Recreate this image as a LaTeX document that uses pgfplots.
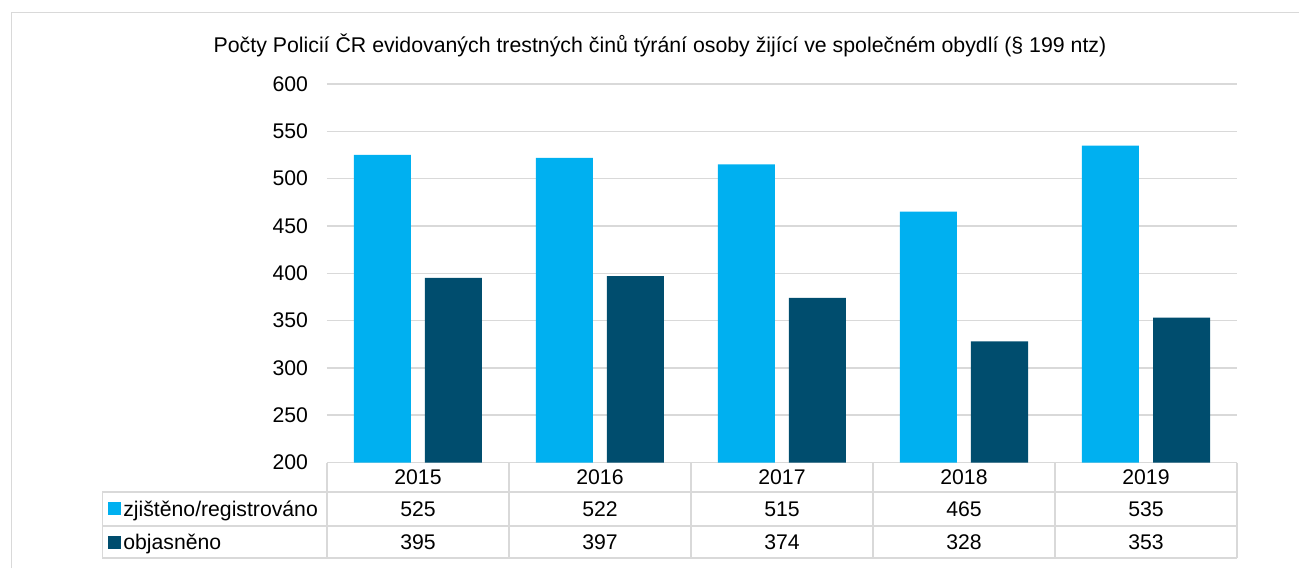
\documentclass[border=0pt]{standalone}
\usepackage{fontspec}
\setmainfont{Liberation Sans}
\usepackage{pgfplots}
\usepackage{pgfplotstable}
\pgfplotsset{compat=1.18}
\definecolor{cLight}{HTML}{00B0F0}
\definecolor{cDark}{HTML}{004D6E}
\definecolor{cGrid}{HTML}{D9D9D9}
\newcommand{\tabfont}{\fontsize{10.6}{12}\selectfont}

\pgfplotstableread{
x year zj ob
0 2015 525 395
1 2016 522 397
2 2017 515 374
3 2018 465 328
4 2019 535 353
}\data

\pgfplotsset{common/.style={
  scale only axis, width=455pt, height=189.25pt,
  xmin=-0.5, xmax=4.5, ymin=200, ymax=600,
  at={(0,0)}, anchor=origin,
}}

\begin{document}
\begin{tikzpicture}
\begin{axis}[common,
  ytick={200,250,...,600},
  xtick=\empty,
  axis line style={draw=none}, major tick length=0pt,
  ymajorgrids, grid style={cGrid, line width=0.7pt},
  tick label style={font=\tabfont},
  /pgf/number format/assume math mode=true,
  yticklabel style={xshift=-6pt},
]
\addplot[ybar, bar width=28.5pt, bar shift=-17.75pt, fill=cLight, draw=none] table[x=x, y=zj] {\data};
\addplot[ybar, bar width=28.5pt, bar shift=17.75pt, fill=cDark, draw=none] table[x=x, y=ob] {\data};
\end{axis}
\begin{axis}[common, hide axis, clip=false]
% table grid
\draw[cGrid, line width=0.7pt] (axis cs:-1.7335,168.82) -- (axis cs:4.5,168.82);
\draw[cGrid, line width=0.7pt] (axis cs:-1.7335,132.89) -- (axis cs:4.5,132.89);
\draw[cGrid, line width=0.7pt] (axis cs:-1.7335,99.08) -- (axis cs:4.5,99.08);
\draw[cGrid, line width=0.7pt] (axis cs:-1.7335,168.82) -- (axis cs:-1.7335,99.08);
\draw[cGrid, line width=0.7pt] (axis cs:-0.5,200) -- (axis cs:-0.5,99.08);
\draw[cGrid, line width=0.7pt] (axis cs:0.5,200) -- (axis cs:0.5,99.08);
\draw[cGrid, line width=0.7pt] (axis cs:1.5,200) -- (axis cs:1.5,99.08);
\draw[cGrid, line width=0.7pt] (axis cs:2.5,200) -- (axis cs:2.5,99.08);
\draw[cGrid, line width=0.7pt] (axis cs:3.5,200) -- (axis cs:3.5,99.08);
\draw[cGrid, line width=1pt] (axis cs:4.5,200) -- (axis cs:4.5,99.08);
% table values
\addplot[draw=none, mark=none, nodes near coords, point meta=explicit symbolic,
  every node near coord/.style={anchor=center, font=\tabfont, inner sep=0pt}]
  table[x=x, y expr=184.41, meta=year] {\data};
\addplot[draw=none, mark=none, nodes near coords, point meta=explicit symbolic,
  every node near coord/.style={anchor=center, font=\tabfont, inner sep=0pt}]
  table[x=x, y expr=150.86, meta=zj] {\data};
\addplot[draw=none, mark=none, nodes near coords, point meta=explicit symbolic,
  every node near coord/.style={anchor=center, font=\tabfont, inner sep=0pt}]
  table[x=x, y expr=115.98, meta=ob] {\data};
% row labels
\fill[cLight] (axis cs:-1.6676,150.86) ++(-3.25pt,-3.25pt) rectangle ++(6.5pt,6.5pt);
\fill[cDark] (axis cs:-1.6676,115.98) ++(-3.25pt,-3.25pt) rectangle ++(6.5pt,6.5pt);
\node[anchor=base west, inner sep=0pt, font=\tabfont, yshift=-3.8pt] at (axis cs:-1.6209,150.86) {zjištěno/registrováno};
\node[anchor=base west, inner sep=0pt, font=\tabfont, yshift=-3.8pt] at (axis cs:-1.6209,115.98) {objasněno};
% title
\node[anchor=center, inner sep=0pt, font=\fontsize{10.65}{12}\selectfont] at (axis cs:1.3297,641.2)
  {Počty Policií ČR evidovaných trestných činů týrání osoby žijící ve společném obydlí (§ 199 ntz)};
% frame
\draw[cGrid, line width=0.8pt] (axis cs:-2.2335,88.5) -- (axis cs:-2.2335,675.6) -- (axis cs:4.8407,675.6);
\coordinate (bbsw) at (axis cs:-2.2967,88.5);
\coordinate (bbne) at (axis cs:4.8407,688.77);
\end{axis}
\pgfresetboundingbox
\useasboundingbox (bbsw) rectangle (bbne);
\end{tikzpicture}
\end{document}
